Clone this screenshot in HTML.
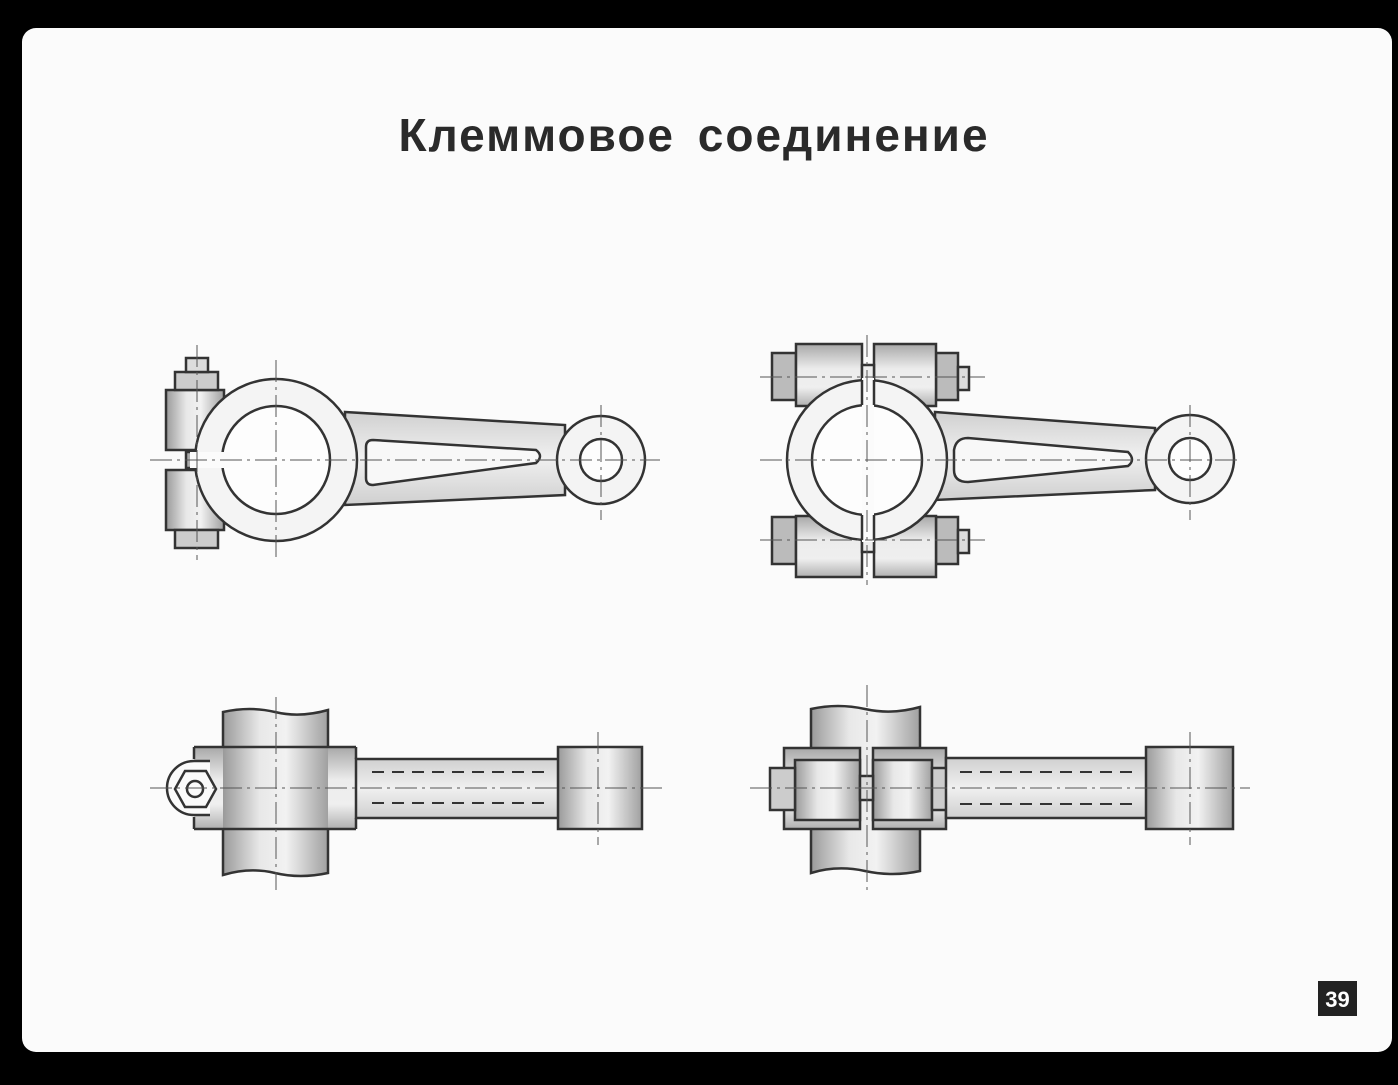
<!DOCTYPE html>
<html><head><meta charset="utf-8"><style>
html,body{margin:0;padding:0;background:#000;}
body{width:1398px;height:1080px;overflow:hidden;position:relative;}
</style></head><body>
<svg width="1398" height="1080" viewBox="0 0 1398 1080" xmlns="http://www.w3.org/2000/svg">
<defs>
<linearGradient id="gh" x1="0" x2="1" y1="0" y2="0">
<stop offset="0" stop-color="#9a9a9a"/><stop offset="0.35" stop-color="#e8e8e8"/><stop offset="0.6" stop-color="#f2f2f2"/><stop offset="1" stop-color="#a0a0a0"/></linearGradient>
<linearGradient id="gv" x1="0" x2="0" y1="0" y2="1">
<stop offset="0" stop-color="#a8a8a8"/><stop offset="0.4" stop-color="#ececec"/><stop offset="0.7" stop-color="#efefef"/><stop offset="1" stop-color="#b0b0b0"/></linearGradient>
<linearGradient id="ga" x1="0" x2="0" y1="0" y2="1">
<stop offset="0" stop-color="#d0d0d0"/><stop offset="0.5" stop-color="#f0f0f0"/><stop offset="1" stop-color="#cfcfcf"/></linearGradient>
</defs>
<rect x="0" y="0" width="1398" height="1080" fill="#000"/>
<rect x="22" y="28" width="1370" height="1024" rx="14" fill="#fbfbfb"/>
<text x="694" y="151" text-anchor="middle" font-family="'Liberation Sans',sans-serif" font-weight="bold" font-size="46" letter-spacing="2" word-spacing="8" fill="#2a2a2a">Клеммовое соединение</text>
<rect x="1318" y="981" width="39" height="35" fill="#222"/>
<text x="1337.5" y="1007" text-anchor="middle" font-family="'Liberation Sans',sans-serif" font-weight="bold" font-size="22" fill="#fff">39</text>

<g stroke="#333" stroke-width="2.5" fill="none">
<!-- TOP LEFT -->
<rect x="166" y="390" width="58" height="60" fill="url(#gh)"/>
<rect x="166" y="470" width="58" height="60" fill="url(#gh)"/>
<rect x="175" y="372" width="43" height="18" fill="#ccc"/>
<rect x="186" y="358" width="22" height="14" fill="#ddd"/>
<rect x="175" y="530" width="43" height="18" fill="#ccc"/>
<rect x="186" y="452" width="22" height="16" fill="#aaa"/>
<path d="M345,412 L565,425 L565,495 L345,505 Z" fill="url(#ga)"/>
<circle cx="276" cy="460" r="81" fill="#f4f4f4"/>
<circle cx="276" cy="460" r="54" fill="#fdfdfd"/>
<rect x="190" y="452" width="40" height="16" fill="#fbfbfb" stroke="none"/>
<path d="M366,447 Q366,440 373,440 L536,450 Q544,456 536,463 L373,485 Q366,485 366,478 Z" fill="#f8f8f8"/>
<circle cx="601" cy="460" r="44" fill="#f4f4f4"/>
<circle cx="601" cy="460" r="21" fill="#fdfdfd"/>

<!-- TOP RIGHT -->
<rect x="772" y="353" width="24" height="47" fill="#bbb"/>
<rect x="772" y="517" width="24" height="47" fill="#bbb"/>
<rect x="936" y="353" width="22" height="47" fill="#bbb"/>
<rect x="958" y="367" width="11" height="23" fill="#ddd"/>
<rect x="936" y="517" width="22" height="47" fill="#bbb"/>
<rect x="958" y="530" width="11" height="23" fill="#ddd"/>
<rect x="796" y="344" width="66" height="62" fill="url(#gv)"/>
<rect x="874" y="344" width="62" height="62" fill="url(#gv)"/>
<rect x="796" y="516" width="66" height="61" fill="url(#gv)"/>
<rect x="874" y="516" width="62" height="61" fill="url(#gv)"/>
<rect x="862" y="365" width="12" height="24" fill="#eee"/>
<rect x="862" y="528" width="12" height="24" fill="#eee"/>
<path d="M935,412 L1155,428 L1155,490 L935,500 Z" fill="url(#ga)"/>
<circle cx="867" cy="460" r="80" fill="#f4f4f4"/>
<circle cx="867" cy="460" r="55" fill="#fdfdfd"/>
<rect x="862" y="378" width="12" height="164" fill="#fbfbfb" stroke="none"/>
<line x1="862" y1="380" x2="862" y2="405"/><line x1="874" y1="380" x2="874" y2="405"/>
<line x1="862" y1="515" x2="862" y2="540"/><line x1="874" y1="515" x2="874" y2="540"/>
<path d="M954,450 Q956,438 968,438 L1128,452 Q1136,460 1128,466 L968,482 Q954,482 954,470 Z" fill="#f8f8f8"/>
<circle cx="1190" cy="459" r="44" fill="#f4f4f4"/>
<circle cx="1190" cy="459" r="21" fill="#fdfdfd"/>

<!-- BOTTOM LEFT -->
<path d="M223,712 Q250,706 275,712 T328,710 L328,873 Q300,879 275,873 T223,875 Z" fill="url(#gh)"/>
<path d="M194,747 L356,747 L356,829 L194,829 Z" fill="url(#gv)" stroke="none"/>
<rect x="223" y="747" width="105" height="82" fill="url(#gh)" stroke="none"/>
<path d="M194,747 L356,747 M194,829 L356,829 M194,747 L194,759 M194,817 L194,829 M356,747 L356,759 M356,818 L356,829"/>
<rect x="356" y="759" width="204" height="59" fill="url(#ga)"/>
<rect x="558" y="747" width="84" height="82" fill="url(#gh)"/>
<path d="M210,761 L194,761 A27,27 0 0 0 194,815 L210,815" fill="#fafafa"/>
<polygon points="175,789 185,771 206,771 216,789 206,807 185,807" fill="#fafafa"/>
<circle cx="195" cy="789" r="8"/>
<path d="M372,772 H548 M372,803 H548" stroke-dasharray="12,8" stroke-width="2"/>

<!-- BOTTOM RIGHT -->
<path d="M811,709 Q838,703 865,709 T920,707 L920,871 Q893,877 865,871 T811,873 Z" fill="url(#gh)"/>
<rect x="784" y="748" width="76" height="81" fill="url(#gv)"/>
<rect x="873" y="748" width="73" height="81" fill="url(#gv)"/>
<rect x="795" y="760" width="65" height="60" fill="url(#gh)"/>
<rect x="873" y="760" width="59" height="60" fill="url(#gh)"/>
<rect x="770" y="768" width="25" height="42" fill="#ccc"/>
<rect x="860" y="776" width="13" height="24" fill="#ddd"/>
<rect x="932" y="768" width="28" height="42" fill="#ccc"/>
<rect x="960" y="777" width="8" height="23" fill="#eee"/>
<rect x="946" y="758" width="201" height="60" fill="url(#ga)"/>
<rect x="1146" y="747" width="87" height="82" fill="url(#gh)"/>
<path d="M960,772 H1140 M960,804 H1140" stroke-dasharray="12,8" stroke-width="2"/>
</g>

<g stroke="#555" stroke-width="1" stroke-dasharray="22,5,3,5" fill="none">
<line x1="150" y1="460" x2="660" y2="460"/>
<line x1="276" y1="360" x2="276" y2="560"/>
<line x1="197" y1="345" x2="197" y2="560"/>
<line x1="601" y1="405" x2="601" y2="520"/>
<line x1="760" y1="460" x2="1240" y2="460"/>
<line x1="867" y1="335" x2="867" y2="585"/>
<line x1="760" y1="377" x2="985" y2="377"/>
<line x1="760" y1="540" x2="985" y2="540"/>
<line x1="1190" y1="405" x2="1190" y2="520"/>
<line x1="150" y1="788" x2="665" y2="788"/>
<line x1="276" y1="697" x2="276" y2="890"/>
<line x1="598" y1="732" x2="598" y2="845"/>
<line x1="750" y1="788" x2="1250" y2="788"/>
<line x1="867" y1="685" x2="867" y2="890"/>
<line x1="1190" y1="732" x2="1190" y2="845"/>
</g>
</svg>
</body></html>
